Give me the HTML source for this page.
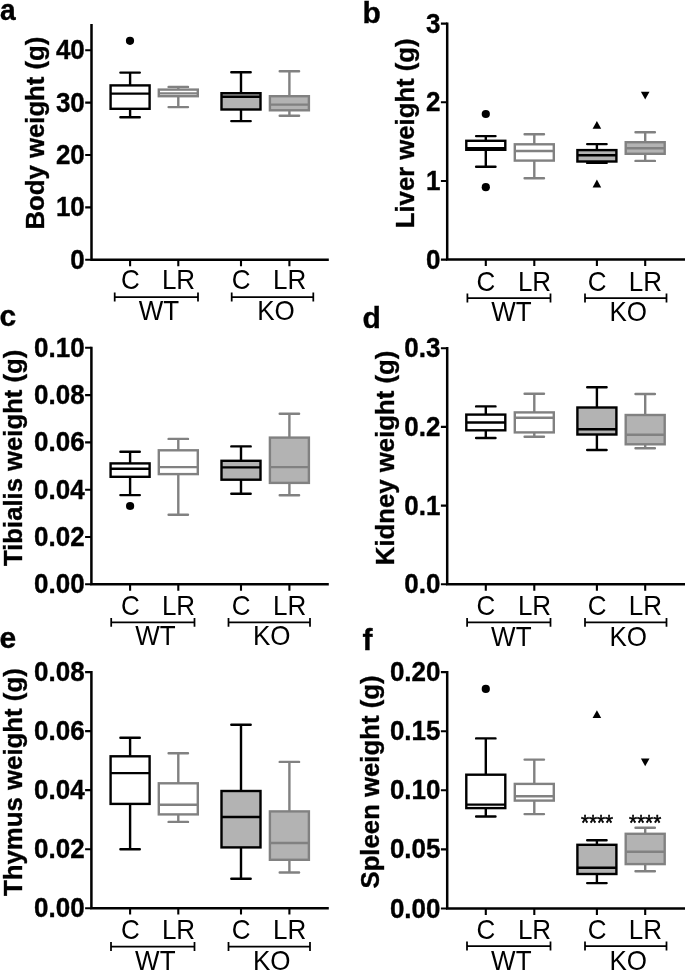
<!DOCTYPE html>
<html><head><meta charset="utf-8"><title>Figure</title>
<style>
html,body{margin:0;padding:0;background:#fff;}
body{width:685px;height:971px;overflow:hidden;font-family:"Liberation Sans",sans-serif;}
svg{display:block;will-change:transform;}
svg text{font-family:"Liberation Sans",sans-serif;fill:#000;}
</style></head><body>
<svg width="685" height="971" viewBox="0 0 685 971">
<rect width="685" height="971" fill="#fff"/>
<g stroke="#000" stroke-width="2.5" fill="none" stroke-linecap="butt">
<path d="M91.5,23.9 V259.8 H328.8"/>
<path d="M85.2,50.20 H91.5 M85.2,102.60 H91.5 M85.2,155.00 H91.5 M85.2,207.40 H91.5 M85.2,259.80 H91.5" stroke-width="2.1"/>
<path d="M130.1,259.8 V266.2 M178.3,259.8 V266.2 M241.0,259.8 V266.2 M289.4,259.8 V266.2" stroke-width="2.1"/>
</g>
<text transform="translate(84.80,59.20) scale(1,1.04)" text-anchor="end" font-weight="bold" stroke="#000" stroke-width="0.35" font-size="26">40</text>
<text transform="translate(84.80,111.60) scale(1,1.04)" text-anchor="end" font-weight="bold" stroke="#000" stroke-width="0.35" font-size="26">30</text>
<text transform="translate(84.80,164.00) scale(1,1.04)" text-anchor="end" font-weight="bold" stroke="#000" stroke-width="0.35" font-size="26">20</text>
<text transform="translate(84.80,216.40) scale(1,1.04)" text-anchor="end" font-weight="bold" stroke="#000" stroke-width="0.35" font-size="26">10</text>
<text transform="translate(84.80,268.80) scale(1,1.04)" text-anchor="end" font-weight="bold" stroke="#000" stroke-width="0.35" font-size="26">0</text>
<text transform="translate(44.00,229.62) rotate(-90) scale(1,1.02)" textLength="193.04" lengthAdjust="spacingAndGlyphs" font-weight="bold" stroke="#000" stroke-width="0.35" font-size="25.65">Body weight (g)</text>
<text transform="translate(-0.1,20.1) scale(0.94,1)" font-weight="bold" stroke="#000" stroke-width="0.35" font-size="30">a</text>
<text transform="translate(130.30,289.30) scale(1,1.04)" text-anchor="middle" font-size="26">C</text>
<text transform="translate(178.50,289.30) scale(1,1.04)" text-anchor="middle" font-size="26">LR</text>
<text transform="translate(241.20,289.30) scale(1,1.04)" text-anchor="middle" font-size="26">C</text>
<text transform="translate(289.60,289.30) scale(1,1.04)" text-anchor="middle" font-size="26">LR</text>
<path d="M114.7,297 H198 M114.7,292.6 V301.4 M198,292.6 V301.4" stroke="#000" stroke-width="1.75" fill="none"/>
<text transform="translate(158.90,320.40) scale(1,1.04)" text-anchor="middle" font-size="26">WT</text>
<path d="M231.7,297 H313.3 M231.7,292.6 V301.4 M313.3,292.6 V301.4" stroke="#000" stroke-width="1.75" fill="none"/>
<text transform="translate(276.00,320.40) scale(1,1.04)" text-anchor="middle" font-size="26">KO</text>
<g stroke="#000" stroke-width="2.4" fill="none" stroke-linecap="round">
<path d="M130.1,72.6 V85.4 M130.1,108.8 V117.2" stroke-linecap="butt"/>
<path d="M120.39999999999999,72.6 H139.79999999999998 M120.39999999999999,117.2 H139.79999999999998"/>
<rect x="110.6" y="85.4" width="39.0" height="23.40" fill="#fff"/>
<path d="M110.6,93.6 H149.6" stroke-linecap="butt"/>
</g>
<g stroke="#818181" stroke-width="2.4" fill="none" stroke-linecap="round">
<path d="M178.3,86.9 V89.6 M178.3,96.2 V107.1" stroke-linecap="butt"/>
<path d="M168.60000000000002,86.9 H188.0 M168.60000000000002,107.1 H188.0"/>
<rect x="158.8" y="89.6" width="39.0" height="6.60" fill="#fff"/>
<path d="M158.8,93.4 H197.8" stroke-linecap="butt"/>
</g>
<g stroke="#000" stroke-width="2.4" fill="none" stroke-linecap="round">
<path d="M241.0,72.2 V93.2 M241.0,109.5 V121.1" stroke-linecap="butt"/>
<path d="M231.3,72.2 H250.7 M231.3,121.1 H250.7"/>
<rect x="221.5" y="93.2" width="39.0" height="16.30" fill="#b3b3b3"/>
<path d="M221.5,96.7 H260.5" stroke-linecap="butt"/>
</g>
<g stroke="#818181" stroke-width="2.4" fill="none" stroke-linecap="round">
<path d="M289.4,71.2 V96.2 M289.4,110.3 V115.8" stroke-linecap="butt"/>
<path d="M279.7,71.2 H299.09999999999997 M279.7,115.8 H299.09999999999997"/>
<rect x="269.9" y="96.2" width="39.0" height="14.10" fill="#b3b3b3"/>
<path d="M269.9,104.6 H308.9" stroke-linecap="butt"/>
</g>
<circle cx="130.0" cy="40.8" r="4.1" fill="#000"/>
<g stroke="#000" stroke-width="2.5" fill="none" stroke-linecap="butt">
<path d="M447.2,22.5 V259.6 H685"/>
<path d="M440.9,23.60 H447.2 M440.9,102.27 H447.2 M440.9,180.93 H447.2 M440.9,259.60 H447.2" stroke-width="2.1"/>
<path d="M485.8,259.6 V266.0 M534.3,259.6 V266.0 M596.9,259.6 V266.0 M645.2,259.6 V266.0" stroke-width="2.1"/>
</g>
<text transform="translate(440.50,32.60) scale(1,1.04)" text-anchor="end" font-weight="bold" stroke="#000" stroke-width="0.35" font-size="26">3</text>
<text transform="translate(440.50,111.27) scale(1,1.04)" text-anchor="end" font-weight="bold" stroke="#000" stroke-width="0.35" font-size="26">2</text>
<text transform="translate(440.50,189.93) scale(1,1.04)" text-anchor="end" font-weight="bold" stroke="#000" stroke-width="0.35" font-size="26">1</text>
<text transform="translate(440.50,268.60) scale(1,1.04)" text-anchor="end" font-weight="bold" stroke="#000" stroke-width="0.35" font-size="26">0</text>
<text transform="translate(414.10,228.22) rotate(-90) scale(1,1.02)" textLength="189.79" lengthAdjust="spacingAndGlyphs" font-weight="bold" stroke="#000" stroke-width="0.35" font-size="25.65">Liver weight (g)</text>
<text transform="translate(362.4,22.5) scale(1,1)" font-weight="bold" stroke="#000" stroke-width="0.35" font-size="30">b</text>
<text transform="translate(486.00,290.60) scale(1,1.04)" text-anchor="middle" font-size="26">C</text>
<text transform="translate(534.50,290.60) scale(1,1.04)" text-anchor="middle" font-size="26">LR</text>
<text transform="translate(597.10,290.60) scale(1,1.04)" text-anchor="middle" font-size="26">C</text>
<text transform="translate(645.40,290.60) scale(1,1.04)" text-anchor="middle" font-size="26">LR</text>
<path d="M467.4,298 H550.5 M467.4,293.6 V302.4 M550.5,293.6 V302.4" stroke="#000" stroke-width="1.75" fill="none"/>
<text transform="translate(511.50,321.00) scale(1,1.04)" text-anchor="middle" font-size="26">WT</text>
<path d="M585,298 H666.5 M585,293.6 V302.4 M666.5,293.6 V302.4" stroke="#000" stroke-width="1.75" fill="none"/>
<text transform="translate(628.30,321.00) scale(1,1.04)" text-anchor="middle" font-size="26">KO</text>
<g stroke="#000" stroke-width="2.4" fill="none" stroke-linecap="round">
<path d="M485.8,136.1 V140.8 M485.8,149.8 V166.7" stroke-linecap="butt"/>
<path d="M476.1,136.1 H495.5 M476.1,166.7 H495.5"/>
<rect x="466.3" y="140.8" width="39.0" height="9.00" fill="#fff"/>
<path d="M466.3,148.3 H505.3" stroke-linecap="butt"/>
</g>
<g stroke="#818181" stroke-width="2.4" fill="none" stroke-linecap="round">
<path d="M534.3,134.3 V144.3 M534.3,160.6 V178.3" stroke-linecap="butt"/>
<path d="M524.5999999999999,134.3 H544.0 M524.5999999999999,178.3 H544.0"/>
<rect x="514.8" y="144.3" width="39.0" height="16.30" fill="#fff"/>
<path d="M514.8,151 H553.8" stroke-linecap="butt"/>
</g>
<g stroke="#000" stroke-width="2.4" fill="none" stroke-linecap="round">
<path d="M596.9,144.1 V150.1 M596.9,161.5 V162.9" stroke-linecap="butt"/>
<path d="M587.1999999999999,144.1 H606.6 M587.1999999999999,162.9 H606.6"/>
<rect x="577.4" y="150.1" width="39.0" height="11.40" fill="#b3b3b3"/>
<path d="M577.4,155.3 H616.4" stroke-linecap="butt"/>
</g>
<g stroke="#818181" stroke-width="2.4" fill="none" stroke-linecap="round">
<path d="M645.2,132.2 V142.2 M645.2,153.8 V160.9" stroke-linecap="butt"/>
<path d="M635.5,132.2 H654.9000000000001 M635.5,160.9 H654.9000000000001"/>
<rect x="625.7" y="142.2" width="39.0" height="11.60" fill="#b3b3b3"/>
<path d="M625.7,148.3 H664.7" stroke-linecap="butt"/>
</g>
<circle cx="485.8" cy="114" r="4.1" fill="#000"/>
<circle cx="485.8" cy="187.2" r="4.1" fill="#000"/>
<path d="M592.6,128.7 L601.1999999999999,128.7 L596.9,120.89999999999999 Z" fill="#000"/>
<path d="M592.6,187.4 L601.1999999999999,187.4 L596.9,179.6 Z" fill="#000"/>
<path d="M640.9000000000001,91.69999999999999 L649.5,91.69999999999999 L645.2,99.5 Z" fill="#000"/>
<g stroke="#000" stroke-width="2.5" fill="none" stroke-linecap="butt">
<path d="M91.4,346.7 V584.3 H328.8"/>
<path d="M85.10000000000001,347.80 H91.4 M85.10000000000001,395.10 H91.4 M85.10000000000001,442.40 H91.4 M85.10000000000001,489.70 H91.4 M85.10000000000001,537.00 H91.4 M85.10000000000001,584.30 H91.4" stroke-width="2.1"/>
<path d="M130.1,584.3 V590.6999999999999 M178.3,584.3 V590.6999999999999 M241.0,584.3 V590.6999999999999 M289.4,584.3 V590.6999999999999" stroke-width="2.1"/>
</g>
<text transform="translate(84.70,356.80) scale(1,1.04)" text-anchor="end" font-weight="bold" stroke="#000" stroke-width="0.35" font-size="26">0.10</text>
<text transform="translate(84.70,404.10) scale(1,1.04)" text-anchor="end" font-weight="bold" stroke="#000" stroke-width="0.35" font-size="26">0.08</text>
<text transform="translate(84.70,451.40) scale(1,1.04)" text-anchor="end" font-weight="bold" stroke="#000" stroke-width="0.35" font-size="26">0.06</text>
<text transform="translate(84.70,498.70) scale(1,1.04)" text-anchor="end" font-weight="bold" stroke="#000" stroke-width="0.35" font-size="26">0.04</text>
<text transform="translate(84.70,546.00) scale(1,1.04)" text-anchor="end" font-weight="bold" stroke="#000" stroke-width="0.35" font-size="26">0.02</text>
<text transform="translate(84.70,593.30) scale(1,1.04)" text-anchor="end" font-weight="bold" stroke="#000" stroke-width="0.35" font-size="26">0.00</text>
<text transform="translate(21.90,565.99) rotate(-90) scale(1,1.02)" textLength="216.27" lengthAdjust="spacingAndGlyphs" font-weight="bold" stroke="#000" stroke-width="0.35" font-size="25.65">Tibialis weight (g)</text>
<text transform="translate(-0.5,325.5) scale(1,1)" font-weight="bold" stroke="#000" stroke-width="0.35" font-size="30">c</text>
<text transform="translate(130.30,614.60) scale(1,1.04)" text-anchor="middle" font-size="26">C</text>
<text transform="translate(178.50,614.60) scale(1,1.04)" text-anchor="middle" font-size="26">LR</text>
<text transform="translate(241.20,614.60) scale(1,1.04)" text-anchor="middle" font-size="26">C</text>
<text transform="translate(289.60,614.60) scale(1,1.04)" text-anchor="middle" font-size="26">LR</text>
<path d="M111.2,622.3 H194.5 M111.2,617.9 V626.6999999999999 M194.5,617.9 V626.6999999999999" stroke="#000" stroke-width="1.75" fill="none"/>
<text transform="translate(155.40,645.40) scale(1,1.04)" text-anchor="middle" font-size="26">WT</text>
<path d="M228.5,622.3 H310 M228.5,617.9 V626.6999999999999 M310,617.9 V626.6999999999999" stroke="#000" stroke-width="1.75" fill="none"/>
<text transform="translate(271.80,645.40) scale(1,1.04)" text-anchor="middle" font-size="26">KO</text>
<g stroke="#000" stroke-width="2.4" fill="none" stroke-linecap="round">
<path d="M130.1,451.7 V463.4 M130.1,476.8 V495.1" stroke-linecap="butt"/>
<path d="M120.39999999999999,451.7 H139.79999999999998 M120.39999999999999,495.1 H139.79999999999998"/>
<rect x="110.6" y="463.4" width="39.0" height="13.40" fill="#fff"/>
<path d="M110.6,468.7 H149.6" stroke-linecap="butt"/>
</g>
<g stroke="#818181" stroke-width="2.4" fill="none" stroke-linecap="round">
<path d="M178.3,438.9 V450.3 M178.3,474.1 V514.8" stroke-linecap="butt"/>
<path d="M168.60000000000002,438.9 H188.0 M168.60000000000002,514.8 H188.0"/>
<rect x="158.8" y="450.3" width="39.0" height="23.80" fill="#fff"/>
<path d="M158.8,467.1 H197.8" stroke-linecap="butt"/>
</g>
<g stroke="#000" stroke-width="2.4" fill="none" stroke-linecap="round">
<path d="M241.0,446.4 V460.8 M241.0,479.7 V493.7" stroke-linecap="butt"/>
<path d="M231.3,446.4 H250.7 M231.3,493.7 H250.7"/>
<rect x="221.5" y="460.8" width="39.0" height="18.90" fill="#b3b3b3"/>
<path d="M221.5,467.4 H260.5" stroke-linecap="butt"/>
</g>
<g stroke="#818181" stroke-width="2.4" fill="none" stroke-linecap="round">
<path d="M289.4,413.7 V437.6 M289.4,482.9 V495.3" stroke-linecap="butt"/>
<path d="M279.7,413.7 H299.09999999999997 M279.7,495.3 H299.09999999999997"/>
<rect x="269.9" y="437.6" width="39.0" height="45.30" fill="#b3b3b3"/>
<path d="M269.9,467.1 H308.9" stroke-linecap="butt"/>
</g>
<circle cx="130.1" cy="506" r="4.1" fill="#000"/>
<g stroke="#000" stroke-width="2.5" fill="none" stroke-linecap="butt">
<path d="M447.2,347.09999999999997 V584.3 H685"/>
<path d="M440.9,348.20 H447.2 M440.9,426.90 H447.2 M440.9,505.60 H447.2 M440.9,584.30 H447.2" stroke-width="2.1"/>
<path d="M485.8,584.3 V590.6999999999999 M534.3,584.3 V590.6999999999999 M596.9,584.3 V590.6999999999999 M645.2,584.3 V590.6999999999999" stroke-width="2.1"/>
</g>
<text transform="translate(440.50,357.20) scale(1,1.04)" text-anchor="end" font-weight="bold" stroke="#000" stroke-width="0.35" font-size="26">0.3</text>
<text transform="translate(440.50,435.90) scale(1,1.04)" text-anchor="end" font-weight="bold" stroke="#000" stroke-width="0.35" font-size="26">0.2</text>
<text transform="translate(440.50,514.60) scale(1,1.04)" text-anchor="end" font-weight="bold" stroke="#000" stroke-width="0.35" font-size="26">0.1</text>
<text transform="translate(440.50,593.30) scale(1,1.04)" text-anchor="end" font-weight="bold" stroke="#000" stroke-width="0.35" font-size="26">0.0</text>
<text transform="translate(393.70,565.22) rotate(-90) scale(1,1.02)" textLength="214.59" lengthAdjust="spacingAndGlyphs" font-weight="bold" stroke="#000" stroke-width="0.35" font-size="25.65">Kidney weight (g)</text>
<text transform="translate(362.6,327.5) scale(1,1)" font-weight="bold" stroke="#000" stroke-width="0.35" font-size="30">d</text>
<text transform="translate(486.00,615.00) scale(1,1.04)" text-anchor="middle" font-size="26">C</text>
<text transform="translate(534.50,615.00) scale(1,1.04)" text-anchor="middle" font-size="26">LR</text>
<text transform="translate(597.10,615.00) scale(1,1.04)" text-anchor="middle" font-size="26">C</text>
<text transform="translate(645.40,615.00) scale(1,1.04)" text-anchor="middle" font-size="26">LR</text>
<path d="M467.1,622.3 H550.5 M467.1,617.9 V626.6999999999999 M550.5,617.9 V626.6999999999999" stroke="#000" stroke-width="1.75" fill="none"/>
<text transform="translate(511.30,646.00) scale(1,1.04)" text-anchor="middle" font-size="26">WT</text>
<path d="M585,622.3 H666.5 M585,617.9 V626.6999999999999 M666.5,617.9 V626.6999999999999" stroke="#000" stroke-width="1.75" fill="none"/>
<text transform="translate(628.30,646.00) scale(1,1.04)" text-anchor="middle" font-size="26">KO</text>
<g stroke="#000" stroke-width="2.4" fill="none" stroke-linecap="round">
<path d="M485.8,406.4 V414.6 M485.8,430.3 V438" stroke-linecap="butt"/>
<path d="M476.1,406.4 H495.5 M476.1,438 H495.5"/>
<rect x="466.3" y="414.6" width="39.0" height="15.70" fill="#fff"/>
<path d="M466.3,422.5 H505.3" stroke-linecap="butt"/>
</g>
<g stroke="#818181" stroke-width="2.4" fill="none" stroke-linecap="round">
<path d="M534.3,393.8 V412.4 M534.3,432.4 V436.7" stroke-linecap="butt"/>
<path d="M524.5999999999999,393.8 H544.0 M524.5999999999999,436.7 H544.0"/>
<rect x="514.8" y="412.4" width="39.0" height="20.00" fill="#fff"/>
<path d="M514.8,417.8 H553.8" stroke-linecap="butt"/>
</g>
<g stroke="#000" stroke-width="2.4" fill="none" stroke-linecap="round">
<path d="M596.9,387.3 V407.5 M596.9,434.5 V450" stroke-linecap="butt"/>
<path d="M587.1999999999999,387.3 H606.6 M587.1999999999999,450 H606.6"/>
<rect x="577.4" y="407.5" width="39.0" height="27.00" fill="#b3b3b3"/>
<path d="M577.4,429.2 H616.4" stroke-linecap="butt"/>
</g>
<g stroke="#818181" stroke-width="2.4" fill="none" stroke-linecap="round">
<path d="M645.2,394 V415 M645.2,444.3 V448.3" stroke-linecap="butt"/>
<path d="M635.5,394 H654.9000000000001 M635.5,448.3 H654.9000000000001"/>
<rect x="625.7" y="415" width="39.0" height="29.30" fill="#b3b3b3"/>
<path d="M625.7,434.8 H664.7" stroke-linecap="butt"/>
</g>
<g stroke="#000" stroke-width="2.5" fill="none" stroke-linecap="butt">
<path d="M91.4,671.0 V908.2 H328.8"/>
<path d="M85.10000000000001,672.10 H91.4 M85.10000000000001,731.12 H91.4 M85.10000000000001,790.15 H91.4 M85.10000000000001,849.18 H91.4 M85.10000000000001,908.20 H91.4" stroke-width="2.1"/>
<path d="M130.1,908.2 V914.6 M178.3,908.2 V914.6 M241.0,908.2 V914.6 M289.4,908.2 V914.6" stroke-width="2.1"/>
</g>
<text transform="translate(84.70,681.10) scale(1,1.04)" text-anchor="end" font-weight="bold" stroke="#000" stroke-width="0.35" font-size="26">0.08</text>
<text transform="translate(84.70,740.12) scale(1,1.04)" text-anchor="end" font-weight="bold" stroke="#000" stroke-width="0.35" font-size="26">0.06</text>
<text transform="translate(84.70,799.15) scale(1,1.04)" text-anchor="end" font-weight="bold" stroke="#000" stroke-width="0.35" font-size="26">0.04</text>
<text transform="translate(84.70,858.18) scale(1,1.04)" text-anchor="end" font-weight="bold" stroke="#000" stroke-width="0.35" font-size="26">0.02</text>
<text transform="translate(84.70,917.20) scale(1,1.04)" text-anchor="end" font-weight="bold" stroke="#000" stroke-width="0.35" font-size="26">0.00</text>
<text transform="translate(21.90,895.99) rotate(-90) scale(1,1.02)" textLength="227.77" lengthAdjust="spacingAndGlyphs" font-weight="bold" stroke="#000" stroke-width="0.35" font-size="25.65">Thymus weight (g)</text>
<text transform="translate(-0.5,648.4) scale(1,1)" font-weight="bold" stroke="#000" stroke-width="0.35" font-size="30">e</text>
<text transform="translate(130.30,938.50) scale(1,1.04)" text-anchor="middle" font-size="26">C</text>
<text transform="translate(178.50,938.50) scale(1,1.04)" text-anchor="middle" font-size="26">LR</text>
<text transform="translate(241.20,938.50) scale(1,1.04)" text-anchor="middle" font-size="26">C</text>
<text transform="translate(289.60,938.50) scale(1,1.04)" text-anchor="middle" font-size="26">LR</text>
<path d="M111,946.5 H194.5 M111,942.1 V950.9 M194.5,942.1 V950.9" stroke="#000" stroke-width="1.75" fill="none"/>
<text transform="translate(155.30,970.00) scale(1,1.04)" text-anchor="middle" font-size="26">WT</text>
<path d="M228.5,946.5 H310 M228.5,942.1 V950.9 M310,942.1 V950.9" stroke="#000" stroke-width="1.75" fill="none"/>
<text transform="translate(271.80,970.00) scale(1,1.04)" text-anchor="middle" font-size="26">KO</text>
<g stroke="#000" stroke-width="2.4" fill="none" stroke-linecap="round">
<path d="M130.1,737.8 V756.3 M130.1,803.9 V849.2" stroke-linecap="butt"/>
<path d="M120.39999999999999,737.8 H139.79999999999998 M120.39999999999999,849.2 H139.79999999999998"/>
<rect x="110.6" y="756.3" width="39.0" height="47.60" fill="#fff"/>
<path d="M110.6,773.1 H149.6" stroke-linecap="butt"/>
</g>
<g stroke="#818181" stroke-width="2.4" fill="none" stroke-linecap="round">
<path d="M178.3,753.2 V783.3 M178.3,814.4 V821.9" stroke-linecap="butt"/>
<path d="M168.60000000000002,753.2 H188.0 M168.60000000000002,821.9 H188.0"/>
<rect x="158.8" y="783.3" width="39.0" height="31.10" fill="#fff"/>
<path d="M158.8,804.8 H197.8" stroke-linecap="butt"/>
</g>
<g stroke="#000" stroke-width="2.4" fill="none" stroke-linecap="round">
<path d="M241.0,724.7 V791 M241.0,847.4 V878.7" stroke-linecap="butt"/>
<path d="M231.3,724.7 H250.7 M231.3,878.7 H250.7"/>
<rect x="221.5" y="791" width="39.0" height="56.40" fill="#b3b3b3"/>
<path d="M221.5,817 H260.5" stroke-linecap="butt"/>
</g>
<g stroke="#818181" stroke-width="2.4" fill="none" stroke-linecap="round">
<path d="M289.4,761.9 V811.4 M289.4,859.8 V872.5" stroke-linecap="butt"/>
<path d="M279.7,761.9 H299.09999999999997 M279.7,872.5 H299.09999999999997"/>
<rect x="269.9" y="811.4" width="39.0" height="48.40" fill="#b3b3b3"/>
<path d="M269.9,843 H308.9" stroke-linecap="butt"/>
</g>
<g stroke="#000" stroke-width="2.5" fill="none" stroke-linecap="butt">
<path d="M447.2,671.0 V908.5 H685"/>
<path d="M440.9,672.10 H447.2 M440.9,731.20 H447.2 M440.9,790.30 H447.2 M440.9,849.40 H447.2 M440.9,908.50 H447.2" stroke-width="2.1"/>
<path d="M485.8,908.5 V914.9 M534.3,908.5 V914.9 M596.9,908.5 V914.9 M645.2,908.5 V914.9" stroke-width="2.1"/>
</g>
<text transform="translate(440.50,681.10) scale(1,1.04)" text-anchor="end" font-weight="bold" stroke="#000" stroke-width="0.35" font-size="26">0.20</text>
<text transform="translate(440.50,740.20) scale(1,1.04)" text-anchor="end" font-weight="bold" stroke="#000" stroke-width="0.35" font-size="26">0.15</text>
<text transform="translate(440.50,799.30) scale(1,1.04)" text-anchor="end" font-weight="bold" stroke="#000" stroke-width="0.35" font-size="26">0.10</text>
<text transform="translate(440.50,858.40) scale(1,1.04)" text-anchor="end" font-weight="bold" stroke="#000" stroke-width="0.35" font-size="26">0.05</text>
<text transform="translate(440.50,917.50) scale(1,1.04)" text-anchor="end" font-weight="bold" stroke="#000" stroke-width="0.35" font-size="26">0.00</text>
<text transform="translate(378.60,888.54) rotate(-90) scale(1,1.02)" textLength="213.12" lengthAdjust="spacingAndGlyphs" font-weight="bold" stroke="#000" stroke-width="0.35" font-size="25.65">Spleen weight (g)</text>
<text transform="translate(362.4,650.4) scale(1,1)" font-weight="bold" stroke="#000" stroke-width="0.35" font-size="30">f</text>
<text transform="translate(486.00,938.60) scale(1,1.04)" text-anchor="middle" font-size="26">C</text>
<text transform="translate(534.50,938.60) scale(1,1.04)" text-anchor="middle" font-size="26">LR</text>
<text transform="translate(597.10,938.60) scale(1,1.04)" text-anchor="middle" font-size="26">C</text>
<text transform="translate(645.40,938.60) scale(1,1.04)" text-anchor="middle" font-size="26">LR</text>
<path d="M467,946 H550.5 M467,941.6 V950.4 M550.5,941.6 V950.4" stroke="#000" stroke-width="1.75" fill="none"/>
<text transform="translate(511.30,969.90) scale(1,1.04)" text-anchor="middle" font-size="26">WT</text>
<path d="M585,946 H666.5 M585,941.6 V950.4 M666.5,941.6 V950.4" stroke="#000" stroke-width="1.75" fill="none"/>
<text transform="translate(628.30,969.90) scale(1,1.04)" text-anchor="middle" font-size="26">KO</text>
<g stroke="#000" stroke-width="2.4" fill="none" stroke-linecap="round">
<path d="M485.8,738.4 V774.7 M485.8,808.1 V816.5" stroke-linecap="butt"/>
<path d="M476.1,738.4 H495.5 M476.1,816.5 H495.5"/>
<rect x="466.3" y="774.7" width="39.0" height="33.40" fill="#fff"/>
<path d="M466.3,804.6 H505.3" stroke-linecap="butt"/>
</g>
<g stroke="#818181" stroke-width="2.4" fill="none" stroke-linecap="round">
<path d="M534.3,759.6 V783.9 M534.3,800.6 V814.1" stroke-linecap="butt"/>
<path d="M524.5999999999999,759.6 H544.0 M524.5999999999999,814.1 H544.0"/>
<rect x="514.8" y="783.9" width="39.0" height="16.70" fill="#fff"/>
<path d="M514.8,796.2 H553.8" stroke-linecap="butt"/>
</g>
<g stroke="#000" stroke-width="2.4" fill="none" stroke-linecap="round">
<path d="M596.9,840.3 V844.8 M596.9,874 V883.1" stroke-linecap="butt"/>
<path d="M587.1999999999999,840.3 H606.6 M587.1999999999999,883.1 H606.6"/>
<rect x="577.4" y="844.8" width="39.0" height="29.20" fill="#b3b3b3"/>
<path d="M577.4,867.8 H616.4" stroke-linecap="butt"/>
</g>
<g stroke="#818181" stroke-width="2.4" fill="none" stroke-linecap="round">
<path d="M645.2,827.8 V833.8 M645.2,864.1 V871.2" stroke-linecap="butt"/>
<path d="M635.5,827.8 H654.9000000000001 M635.5,871.2 H654.9000000000001"/>
<rect x="625.7" y="833.8" width="39.0" height="30.30" fill="#b3b3b3"/>
<path d="M625.7,851.8 H664.7" stroke-linecap="butt"/>
</g>
<circle cx="485.8" cy="688.9" r="4.1" fill="#000"/>
<path d="M592.6,718.1 L601.1999999999999,718.1 L596.9,710.3000000000001 Z" fill="#000"/>
<path d="M640.9000000000001,758.5 L649.5,758.5 L645.2,766.3 Z" fill="#000"/>
<text transform="translate(597.0,829.9) scale(1,1.04)" text-anchor="middle" font-size="20.7" stroke="#000" stroke-width="0.5">****</text>
<text transform="translate(645.1,829.9) scale(1,1.04)" text-anchor="middle" font-size="20.7" stroke="#000" stroke-width="0.5">****</text>
</svg>
</body></html>
